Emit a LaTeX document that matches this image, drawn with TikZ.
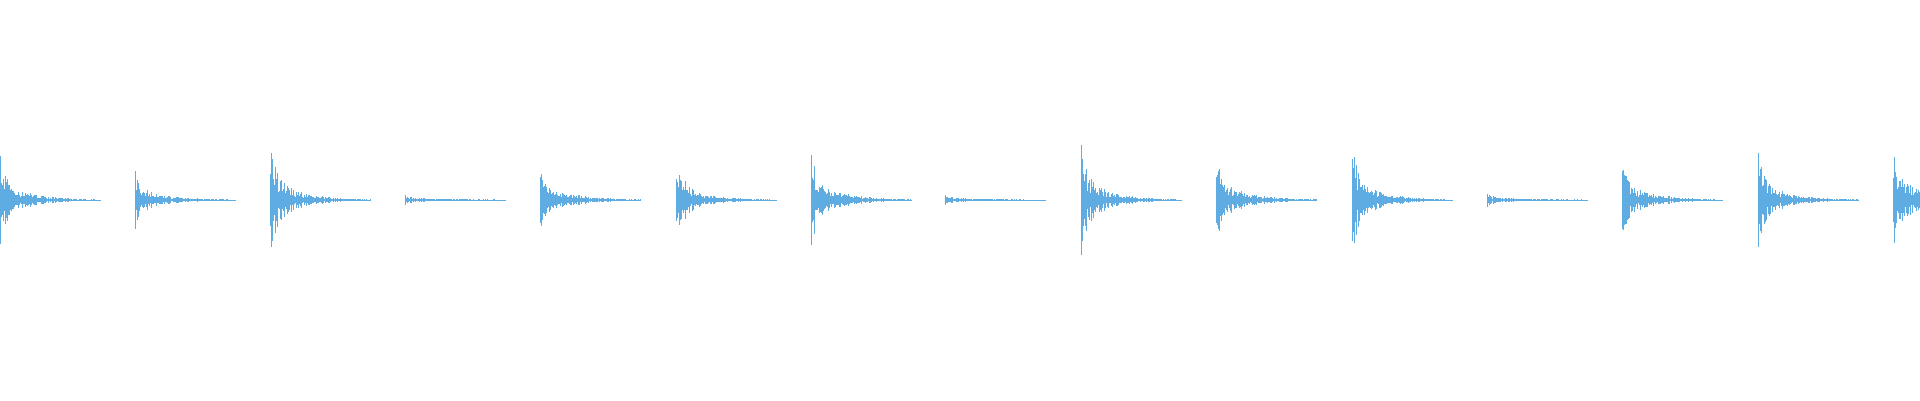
\documentclass[tikz,border=0pt]{standalone}
\definecolor{wave}{RGB}{94,172,226}
\begin{document}
\begin{tikzpicture}[x=1pt,y=1pt]
    \useasboundingbox (0,0) rectangle (1920,400);
    \clip (0,0) rectangle (1920,400);
    \pgfmathsetseed{7}
    % onset, peak, decay
    \foreach \s/\a/\d in {0/48/28,135/33/30,270/60/28,405/6/60,540/43/30,676/51/26,811/49/30,945/6/60,1081/59/28,1216/49/30,1352/61/26,1487/7/60,1622/43/30,1758/49/28,1893/55/40}
    \foreach \i in {0,...,100}
    {
      \pgfmathsetmacro\h{max(0.5,\a*(0.6*exp(-\i/5)+0.4*exp(-\i/\d))*(0.3+0.7*rnd))}
      \draw[wave,line width=1pt] (\s+\i,200-\h)--(\s+\i,200+\h);
    }
  \end{tikzpicture}
\end{document}
